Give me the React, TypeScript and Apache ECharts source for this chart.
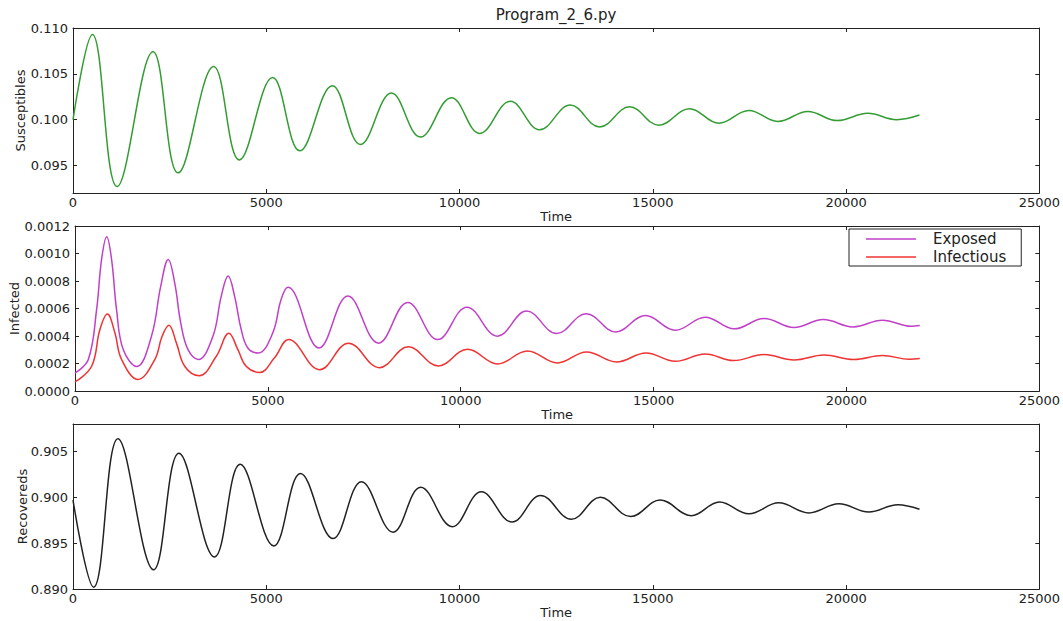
import React, { useEffect, useRef } from "react";
import * as echarts from "echarts";

// ---- Data (turning points of each curve, plus shape points) ----
const sTime = [0, 500, 1140, 2070, 2720, 3640, 4305, 5165, 5870, 6710, 7437, 8239, 8989, 9790, 10522, 11316, 12073, 12867, 13625, 14400, 15158, 15951, 16710, 17485, 18235, 19010, 19770, 20562, 21311, 21900];
const susceptibles = [0.1000, 0.1093, 0.0927, 0.1074, 0.0942, 0.1058, 0.0956, 0.1046, 0.0966, 0.1037, 0.0973, 0.1029, 0.0981, 0.1024, 0.0985, 0.1020, 0.0989, 0.1016, 0.0992, 0.1014, 0.0994, 0.1012, 0.0996, 0.1010, 0.0998, 0.1009, 0.0999, 0.1007, 0.1000, 0.1005];

const eTime = [0, 345, 560, 689, 822, 948, 1077, 1250, 1600, 1982, 2223, 2418, 2585, 2741, 2930, 3195, 3576, 3792, 3970, 4137, 4309, 4481, 4750, 5128, 5343, 5520, 6325, 7076, 7867, 8627, 9402, 10160, 10954, 11711, 12487, 13255, 14020, 14788, 15564, 16339, 17089, 17865, 18640, 19398, 20174, 20933, 21683, 21900];
const exposed = [0.000131, 0.000229, 0.000592, 0.000957, 0.001122, 0.000957, 0.000592, 0.000301, 0.000178, 0.000398, 0.000763, 0.000957, 0.000787, 0.000496, 0.000301, 0.000229, 0.000398, 0.000690, 0.000837, 0.000690, 0.000447, 0.000313, 0.000277, 0.000423, 0.000666, 0.000754, 0.000313, 0.000691, 0.000348, 0.000644, 0.000374, 0.000610, 0.000399, 0.000581, 0.000418, 0.000561, 0.000430, 0.000549, 0.000442, 0.000537, 0.000452, 0.000527, 0.000462, 0.000520, 0.000466, 0.000515, 0.000471, 0.000476];

const iTime = [0, 431, 646, 840, 1034, 1207, 1630, 2068, 2258, 2435, 2628, 2844, 3220, 3663, 3990, 4223, 4438, 4787, 5171, 5537, 6340, 7093, 7893, 8643, 9419, 10178, 10954, 11730, 12505, 13263, 14038, 14806, 15564, 16339, 17072, 17865, 18640, 19416, 20191, 20933, 21639, 21900];
const infectious = [0.000066, 0.000180, 0.000447, 0.000560, 0.000423, 0.000229, 0.000084, 0.000229, 0.000398, 0.000478, 0.000350, 0.000180, 0.000111, 0.000253, 0.000420, 0.000301, 0.000180, 0.000135, 0.000241, 0.000375, 0.000155, 0.000348, 0.000170, 0.000321, 0.000182, 0.000304, 0.000197, 0.000291, 0.000204, 0.000284, 0.000211, 0.000277, 0.000216, 0.000270, 0.000221, 0.000265, 0.000226, 0.000262, 0.000229, 0.000258, 0.000231, 0.000236];

const rTime = [0, 534, 1163, 2086, 2741, 3663, 4326, 5197, 5886, 6730, 7463, 8281, 8997, 9816, 10566, 11358, 12099, 12893, 13643, 14426, 15194, 15995, 16727, 17485, 18260, 19036, 19812, 20587, 21337, 21900];
const recovereds = [0.8997, 0.8902, 0.9064, 0.8921, 0.9048, 0.8935, 0.9036, 0.8947, 0.9026, 0.8955, 0.9017, 0.8962, 0.9011, 0.8968, 0.9006, 0.8973, 0.9002, 0.8976, 0.9000, 0.8979, 0.8997, 0.8980, 0.8995, 0.8982, 0.8994, 0.8983, 0.8993, 0.8984, 0.8992, 0.8987];

const titleText = "Program_2_6.py";
const xName = "Time";
const yNames = ["Susceptibles", "Infected", "Recovereds"];
const sTicks = [0.095, 0.1, 0.105, 0.11];
const rTicks = [0.89, 0.895, 0.9, 0.905];

const FONT = "DejaVu Sans";
const INK = "#222";

const zip = (xs: number[], ys: number[]) => xs.map((x, i) => [x, ys[i]]);

export default function App() {
  const ref = useRef<HTMLDivElement>(null);
  useEffect(() => {
    if (!ref.current) return;
    const chart = echarts.init(ref.current, null, { renderer: "svg" });
    const tops = [28, 226, 424];
    const grids = tops.map((t) => ({ left: 73, top: t, width: 967, height: 165, containLabel: false }));

    const xAxis: any[] = [];
    const yAxis: any[] = [];
    const yCfg = [
      { min: 0.092, max: 0.11, ticks: sTicks, dec: 3, gap: 46 },
      { min: 0, max: 0.0012, interval: 0.0002, dec: 4, gap: 54 },
      { min: 0.89, max: 0.908, ticks: rTicks, dec: 3, gap: 44 },
    ];
    for (let i = 0; i < 3; i++) {
      const common = {
        type: "value",
        gridIndex: i,
        min: 0,
        max: 25000,
        interval: 5000,
        splitLine: { show: false },
        axisLine: { show: true, onZero: false, lineStyle: { color: INK, width: 1 } },
        axisTick: { show: true, inside: true, length: 4, lineStyle: { color: INK } },
      };
      xAxis.push({
        ...common,
        position: "bottom",
        axisLabel: { margin: 3, fontSize: 13, color: INK, fontFamily: FONT, formatter: (v: number) => String(v) },
        name: xName,
        nameLocation: "middle",
        nameGap: 17,
        nameMoveOverlap: false,
        nameTextStyle: { fontSize: 13, color: INK, fontFamily: FONT },
      });
      xAxis.push({ ...common, position: "top", axisLabel: { show: false } });

      const c = yCfg[i];
      const yCommon: any = {
        type: "value",
        gridIndex: i,
        min: c.min,
        max: c.max,
        splitLine: { show: false },
        axisLine: { show: true, onZero: false, lineStyle: { color: INK, width: 1 } },
        axisTick: { show: true, inside: true, length: 4, lineStyle: { color: INK } },
      };
      if (c.interval) yCommon.interval = c.interval;
      if (c.ticks) yCommon.axisTick.customValues = c.ticks;
      yAxis.push({
        ...yCommon,
        position: "left",
        axisLabel: {
          margin: 5,
          fontSize: 13,
          color: INK,
          fontFamily: FONT,
          formatter: (v: number) => v.toFixed(c.dec),
          ...(c.ticks ? { customValues: c.ticks } : {}),
        },
        name: yNames[i],
        nameLocation: "middle",
        nameGap: c.gap,
        nameRotate: 90,
        nameMoveOverlap: false,
        nameTextStyle: { fontSize: 13, color: INK, fontFamily: FONT },
      });
      yAxis.push({ ...yCommon, position: "right", axisLabel: { show: false } });
    }

    const line = (name: string, data: number[][], color: string, gi: number, smooth: number) => ({
      name,
      type: "line",
      xAxisIndex: gi * 2,
      yAxisIndex: gi * 2,
      data,
      smooth,
      symbol: "none",
      showSymbol: false,
      lineStyle: { color, width: 1.5 },
      itemStyle: { color },
      clip: true,
    });

    chart.setOption({
      animation: false,
      backgroundColor: "#fff",
      title: {
        text: titleText,
        left: 556,
        top: 7,
        textAlign: "center",
        padding: 0,
        textStyle: { fontSize: 15, fontWeight: "normal", color: INK, fontFamily: FONT },
      },
      grid: grids,
      xAxis,
      yAxis,
      legend: {
        data: ["Exposed", "Infectious"],
        orient: "vertical",
        left: 849,
        top: 229,
        padding: [1, 15, 0, 17],
        icon: "rect",
        itemWidth: 50,
        itemHeight: 1.5,
        itemGap: 0,
        borderColor: INK,
        borderWidth: 1,
        backgroundColor: "#fff",
        selectedMode: false,
        textStyle: { fontSize: 15, lineHeight: 18, color: INK, fontFamily: FONT, padding: [0, 0, 0, 12] },
      },
      series: [
        line("Susceptibles", zip(sTime, susceptibles), "#339c33", 0, 0.4),
        line("Exposed", zip(eTime, exposed), "#c040c8", 1, 0.4),
        line("Infectious", zip(iTime, infectious), "#ee3333", 1, 0.4),
        line("Recovereds", zip(rTime, recovereds), "#222222", 2, 0.4),
      ],
    });
    return () => chart.dispose();
  }, []);
  return (
    <div
      ref={ref}
      style={{ position: "fixed", left: 0, top: 0, width: 1063, height: 621, background: "#fff" }}
    />
  );
}
